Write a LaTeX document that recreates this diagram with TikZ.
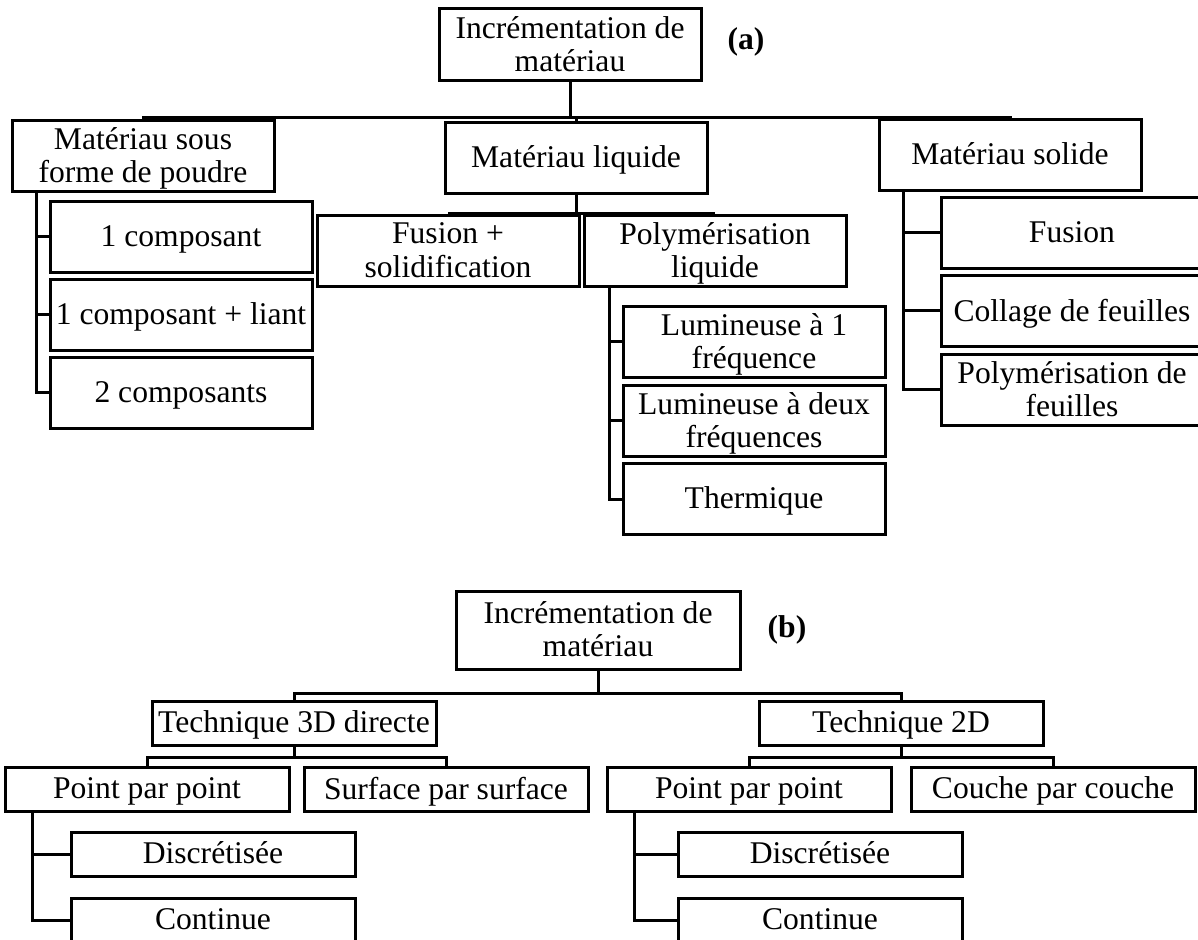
\documentclass[tikz,border=0pt]{standalone}
\usepackage{fontspec}
\setmainfont{Liberation Serif}
\begin{document}
\begin{tikzpicture}
      [x=0.5pt,y=-0.5pt,line width=1.5pt,
       every node/.style={draw,rectangle,align=center,inner sep=0pt,text depth=1pt,
         font=\fontsize{15.8}{16.8}\selectfont},
       boxa/.style={minimum width=131pt,minimum height=35.5pt},
       boxb/.style={minimum width=142pt,minimum height=22pt},
       tag/.style={draw=none,font=\fontsize{15.8}{16.8}\selectfont\bfseries}]
      \clip (0,0) rectangle (1198,940);

      \node [boxa,minimum height=36pt] (ra) at (570,45) {Incrémentation de\\matériau};
      \node [tag] (taga) at (746,40) {(a)};
      \node [boxa] (pa) at (143,156) {Matériau sous\\forme de poudre};
      \node [boxa] (la) at (576,158) {Matériau liquide};
      \node [boxa] (sa) at (1010,155) {Matériau solide};
      \node [boxa] (pa1) at (181,237) {1 composant};
      \node [boxa] (pa2) at (181,315) {1 composant + liant};
      \node [boxa] (pa3) at (181,393) {2 composants};
      \node [boxa] (la1) at (448,251) {Fusion +\\solidification};
      \node [boxa] (la2) at (715,251) {Polymérisation\\liquide};
      \node [boxa] (la21) at (754,342) {Lumineuse à 1\\fréquence};
      \node [boxa] (la22) at (754,421) {Lumineuse à deux\\fréquences};
      \node [boxa] (la23) at (754,499) {Thermique};
      \node [boxa] (sa1) at (1072,233) {Fusion};
      \node [boxa] (sa2) at (1072,311) {Collage de feuilles};
      \node [boxa] (sa3) at (1072,390) {Polymérisation de\\feuilles};

      \foreach \to in {pa,la,sa}
      \draw (ra.south) -- ++(0,35) -| (\to.north);
      \foreach \to in {la1,la2}
      \draw (la.south) -- ++(0,19) -| (\to.north);
      \foreach \to in {pa1,pa2,pa3}
      \draw (pa.south west) ++(26,0) |- (\to.west);
      \foreach \to in {la21,la22,la23}
      \draw (la2.south west) ++(27,0) |- (\to.west);
      \foreach \to in {sa1,sa2,sa3}
      \draw (sa.south west) ++(26,0) |- (\to.west);

      \node [boxb,minimum height=39pt] (rb) at (598,630) {Incrémentation de\\matériau};
      \node [tag] (tagb) at (787,628) {(b)};
      \node [boxb] (tb1) at (294,723) {Technique 3D directe};
      \node [boxb] (tb2) at (901,723) {Technique 2D};
      \node [boxb] (tb11) at (147,789) {Point par point};
      \node [boxb] (tb12) at (446,789) {Surface par surface};
      \node [boxb] (tb21) at (749,789) {Point par point};
      \node [boxb] (tb22) at (1053,789) {Couche par couche};
      \node [boxb] (tb111) at (213,854) {Discrétisée};
      \node [boxb] (tb112) at (213,920) {Continue};
      \node [boxb] (tb211) at (820,854) {Discrétisée};
      \node [boxb] (tb212) at (820,920) {Continue};

      \foreach \to in {tb1,tb2}
      \draw (rb.south) -- ++(0,23) -| (\to.north);
      \foreach \to in {tb11,tb12}
      \draw (tb1.south) -- ++(0,11) -| (\to.north);
      \foreach \to in {tb21,tb22}
      \draw (tb2.south) -- ++(0,11) -| (\to.north);
      \foreach \to in {tb111,tb112}
      \draw (tb11.south west) ++(29,0) |- (\to.west);
      \foreach \to in {tb211,tb212}
      \draw (tb21.south west) ++(29,0) |- (\to.west);
    \end{tikzpicture}
\end{document}
